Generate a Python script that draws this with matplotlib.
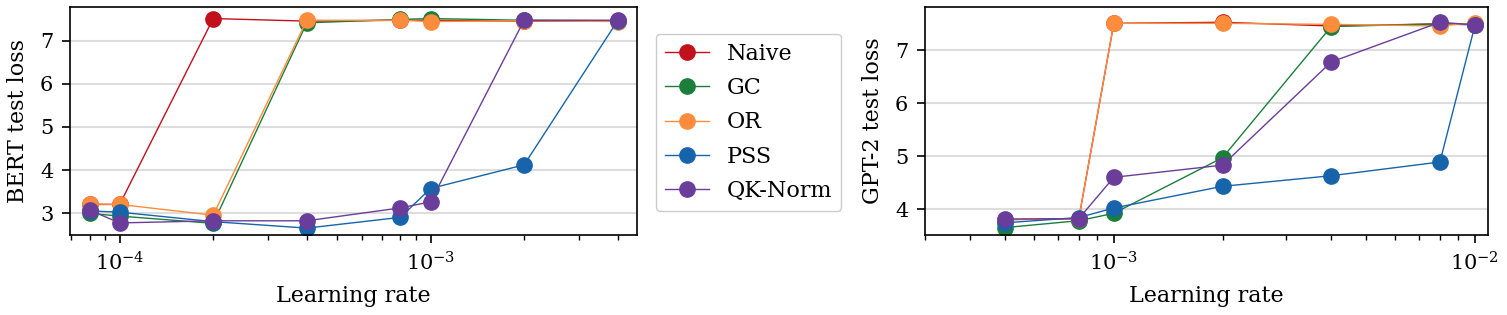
import numpy as np
import matplotlib
matplotlib.use("Agg")
import matplotlib.pyplot as plt

plt.rcParams['font.family'] = ['DejaVu Serif']
plt.rcParams['mathtext.fontset'] = 'dejavuserif'
plt.rcParams['font.size'] = 16

methods = ["Naive", "GC", "OR", "PSS", "QK-Norm"]
colors = ["#c0111d", "#1b7e3b", "#fd8d3c", "#1764ab", "#6a3d9a"]

# BERT
bert_lr = [8e-5, 1e-4, 2e-4, 4e-4, 8e-4, 1e-3, 2e-3, 4e-3]
bert_naive = [3.20, 3.20, 7.52, 7.46, 7.48, 7.48, 7.46, 7.46]
bert_gc = [2.99, 2.93, 2.76, 7.42, 7.50, 7.52, 7.48, 7.47]
bert_or = [3.21, 3.20, 2.95, 7.48, 7.48, 7.45, 7.47, 7.45]
bert_pss = [3.05, 3.02, 2.80, 2.65, 2.90, 3.57, 4.12, 7.47]
bert_qk = [3.07, 2.77, 2.82, 2.82, 3.12, 3.26, 7.48, 7.48]

# GPT-2
gpt_lr = [5e-4, 8e-4, 1e-3, 2e-3, 4e-3, 8e-3, 1e-2]
gpt_naive = [3.80, 3.82, 7.51, 7.53, 7.46, 7.50, 7.50]
gpt_gc = [3.65, 3.78, 3.92, 4.97, 7.45, 7.50, 7.48]
gpt_or = [3.80, 3.82, 7.51, 7.51, 7.49, 7.46, 7.52]
gpt_pss = [3.74, 3.84, 4.02, 4.43, 4.63, 4.89, 7.47]
gpt_qk = [3.81, 3.82, 4.60, 4.83, 6.78, 7.53, 7.48]


def draw(ax, lr, series, ylabel):
    for name, vals, c in zip(methods, series, colors):
        ax.plot(lr, vals, marker='o', markersize=11, linewidth=1,
                color=c, label=name)
    ax.set_xscale('log')
    ax.set_xlabel("Learning rate", fontsize=16, labelpad=7)
    ax.set_ylabel(ylabel, fontsize=16, labelpad=8)
    ax.grid(axis='y', color='#dddddd', linewidth=1.5)
    ax.set_axisbelow(True)
    ax.tick_params(which='major', length=6, width=1.2, labelsize=15, pad=6)
    ax.tick_params(which='minor', length=3.5, width=1)
    for s in ax.spines.values():
        s.set_linewidth(1.2)


fig = plt.figure(figsize=(15.07, 3.15), dpi=100)
ax1 = fig.add_axes([0.0464, 0.254, 0.376, 0.724])
ax2 = fig.add_axes([0.6138, 0.254, 0.3736, 0.724])

draw(ax1, bert_lr, [bert_naive, bert_gc, bert_or, bert_pss, bert_qk], "BERT test loss")
ax1.set_xlim(6.92e-5, 4.6e-3)
ax1.set_ylim(2.49, 7.79)
ax1.set_yticks([3, 4, 5, 6, 7])

draw(ax2, gpt_lr, [gpt_naive, gpt_gc, gpt_or, gpt_pss, gpt_qk], "GPT-2 test loss")
ax2.set_xlim(3.0e-4, 1.087e-2)
ax2.set_ylim(3.51, 7.82)
ax2.set_yticks([4, 5, 6, 7])

handles, labels = ax1.get_legend_handles_labels()
fig.legend(handles, labels, loc='upper left', bbox_to_anchor=(0.4353, 0.892),
           borderaxespad=0, fontsize=16, handlelength=2.0, handletextpad=0.8,
           labelspacing=0.55, framealpha=1, edgecolor='#cccccc')

fig.savefig("out.png", dpi=100)
